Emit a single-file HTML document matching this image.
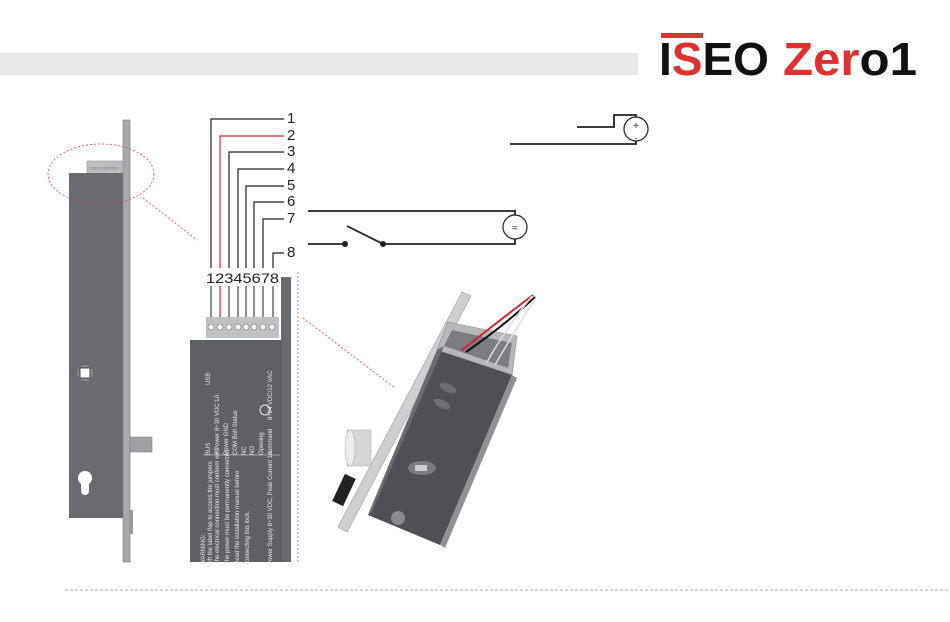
<!DOCTYPE html>
<html><head><meta charset="utf-8"><style>
html,body{margin:0;padding:0;background:#fff;width:950px;height:622px;overflow:hidden}
svg{display:block}
text{font-family:"Liberation Sans",sans-serif}
</style></head><body>
<svg width="950" height="622" viewBox="0 0 950 622" xmlns="http://www.w3.org/2000/svg">
<!-- header -->
<rect x="0" y="53" width="638" height="22" fill="#e8e8e8"/>
<rect x="661" y="33" width="42" height="5" fill="#e03030"/>
<text x="659" y="75" font-size="46" font-weight="bold" fill="#111" textLength="110" lengthAdjust="spacingAndGlyphs">I<tspan fill="#e03030">S</tspan>EO</text>
<text x="783" y="75" font-size="46" font-weight="bold" fill="#e03030" textLength="134" lengthAdjust="spacingAndGlyphs">Zer<tspan fill="#111">o1</tspan></text>
<line x1="65" y1="590" x2="950" y2="590" stroke="#aaa" stroke-dasharray="3,2" stroke-width="1"/>

<!-- left lock -->
<rect x="87" y="161" width="35" height="13" fill="#bdbdbd" stroke="#888" stroke-width="0.5"/>
<text x="89" y="170" font-size="6" fill="#555">○○○○○○○○</text>
<rect x="69" y="173" width="55" height="345" fill="#6a6b70"/>
<rect x="123" y="120" width="7" height="442" fill="#a8a9ad" stroke="#777" stroke-width="0.6"/>
<rect x="130" y="437" width="22" height="15" fill="#a0a0a4" stroke="#777" stroke-width="0.5"/>
<rect x="130" y="510" width="3" height="24" fill="#999"/>
<circle cx="85" cy="373" r="8" fill="#8a8b8f"/>
<rect x="80" y="368" width="10" height="10" fill="#fff" stroke="#222" stroke-width="0.8"/>
<circle cx="85" cy="478" r="7" fill="#fff"/>
<rect x="81" y="478" width="8" height="17" rx="4" fill="#fff"/>
<ellipse cx="101" cy="174" rx="53" ry="30" fill="none" stroke="#e04050" stroke-dasharray="2,2" stroke-width="0.8"/>
<line x1="143" y1="198" x2="197" y2="240" stroke="#e04050" stroke-dasharray="2,2" stroke-width="0.8"/>

<!-- wires -->
<g fill="none" stroke-width="1.2">
<polyline points="284,119 211,119 211,268" stroke="#222"/>
<polyline points="284,136 220,136 220,268" stroke="#d82030"/>
<polyline points="284,152 229,152 229,268" stroke="#222"/>
<polyline points="284,169 238,169 238,268" stroke="#222"/>
<polyline points="284,186 246,186 246,268" stroke="#222"/>
<polyline points="284,202 254,202 254,268" stroke="#222"/>
<polyline points="284,219 263,219 263,268" stroke="#222"/>
<polyline points="284,253 273,253 273,268" stroke="#222"/>
<line x1="211" y1="286" x2="211" y2="318" stroke="#444"/>
<line x1="220" y1="286" x2="220" y2="318" stroke="#d82030"/>
<line x1="229" y1="286" x2="229" y2="318" stroke="#444"/>
<line x1="238" y1="286" x2="238" y2="318" stroke="#444"/>
<line x1="246" y1="286" x2="246" y2="318" stroke="#444"/>
<line x1="254" y1="286" x2="254" y2="318" stroke="#444"/>
<line x1="263" y1="286" x2="263" y2="318" stroke="#444"/>
<line x1="273" y1="286" x2="273" y2="318" stroke="#444"/>
</g>
<g font-size="15" fill="#222">
<text x="287" y="123">1</text><text x="287" y="140">2</text><text x="287" y="156">3</text><text x="287" y="173">4</text>
<text x="287" y="190">5</text><text x="287" y="206">6</text><text x="287" y="223">7</text><text x="287" y="257">8</text>
</g>
<text x="206" y="283" font-size="14" fill="#222" textLength="73" lengthAdjust="spacingAndGlyphs">12345678</text>

<rect x="281" y="277" width="10" height="285" fill="#6a6b70"/>
<rect x="206" y="317" width="73" height="21" fill="#c0c0c2"/>
<g fill="#f4f4f4" stroke="#777" stroke-width="0.6">
<circle cx="211" cy="327" r="3"/><circle cx="220" cy="327" r="3"/><circle cx="229" cy="327" r="3"/><circle cx="238" cy="327" r="3"/>
<circle cx="246" cy="327" r="3"/><circle cx="254" cy="327" r="3"/><circle cx="263" cy="327" r="3"/><circle cx="272" cy="327" r="3"/>
</g>
<rect x="190" y="340" width="92" height="222" fill="#5f6066"/>
<g fill="#e8e8e8" font-size="6">
<text transform="translate(205,565) rotate(-90)">WARNING:</text>
<text transform="translate(212,565) rotate(-90)">Lift the label flap to access the jumpers</text>
<text transform="translate(219,565) rotate(-90)">The electrical connection must conform with</text>
<text transform="translate(229,565) rotate(-90)">The power must be permanently connected</text>
<text transform="translate(239,565) rotate(-90)">Read the installation manual before</text>
<text transform="translate(249,565) rotate(-90)">connecting this lock.</text>
<text transform="translate(272,565) rotate(-90)">Power Supply 8÷30 VDC, Peak Current 1A</text>
<text transform="translate(210,455) rotate(-90)">BUS</text>
<text transform="translate(219,455) rotate(-90)">+ Power 8÷30 VDC 1A</text>
<text transform="translate(228,455) rotate(-90)">Power GND</text>
<text transform="translate(237,455) rotate(-90)">COM Bolt Status</text>
<text transform="translate(246,455) rotate(-90)">NC</text>
<text transform="translate(254,455) rotate(-90)">NO</text>
<text transform="translate(263,455) rotate(-90)">Opening</text>
<text transform="translate(272,455) rotate(-90)">command</text>
<text transform="translate(272,420) rotate(-90)">8÷24 VDC/12 VAC</text>
<text transform="translate(210,385) rotate(-90)">USB</text>
</g>
<line x1="203" y1="455" x2="280" y2="455" stroke="#ddd" stroke-width="0.6"/>
<circle cx="265" cy="410" r="5" fill="none" stroke="#eee" stroke-width="1"/>

<line x1="298" y1="272" x2="298" y2="562" stroke="#e04050" stroke-dasharray="2,2" stroke-width="0.8"/>
<line x1="303" y1="318" x2="395" y2="388" stroke="#e04050" stroke-dasharray="2,2" stroke-width="0.8"/>

<!-- circuit -->
<g stroke="#222" stroke-width="1.8" fill="none">
<polyline points="308,211 515,211 515,215"/>
<polyline points="308,244 345,244"/>
<line x1="347" y1="226" x2="383" y2="244"/>
<polyline points="383,244 515,244 515,239"/>
<circle cx="515" cy="227" r="12" stroke-width="1.2" fill="#fff"/>
<polyline points="577,127 614,127 614,115 636,115 636,117"/>
<polyline points="510,144 636,144 636,141"/>
<circle cx="636" cy="129" r="12" stroke-width="1.2" fill="#fff"/>
</g>
<circle cx="345" cy="244" r="3" fill="#222"/><circle cx="383" cy="244" r="3" fill="#222"/>
<text x="515" y="231" font-size="10" text-anchor="middle" fill="#222">≈</text>
<text x="636" y="129" font-size="10" text-anchor="middle" fill="#222">+</text>
<text x="636" y="141" font-size="8" text-anchor="middle" fill="#222">-</text>

<!-- 3D lock -->
<polygon points="462,292 471,296 347,532 338,527" fill="#cfcfd2" stroke="#999" stroke-width="0.6"/>
<polygon points="448,322 517,336 512,375 437,350" fill="#b8b8bb" stroke="#888" stroke-width="0.6"/>
<polygon points="452,330 512,343 508,368 444,346" fill="#7c7d82"/>
<polygon points="437,350 512,375 440,545 368,515" fill="#4f5055"/>
<polygon points="512,375 517,378 445,548 440,545" fill="#909095"/>
<polygon points="437,350 444,346 372,512 368,515" fill="#6a6b70"/>
<rect x="347" y="430" width="24" height="36" fill="#d6d6d8" stroke="#aaa" stroke-width="0.5"/>
<ellipse cx="350" cy="448" rx="5" ry="18" fill="#eee" stroke="#aaa" stroke-width="0.5"/>
<ellipse cx="422" cy="468" rx="14" ry="7" fill="#7a7b80"/>
<rect x="415" y="465" width="12" height="6" fill="#ccc"/>
<ellipse cx="448" cy="388" rx="9" ry="4" fill="#6e6f74" transform="rotate(25 448 388)"/>
<ellipse cx="442" cy="404" rx="9" ry="4" fill="#6e6f74" transform="rotate(25 442 404)"/>
<circle cx="398" cy="518" r="7" fill="#8a8b90"/>
<rect x="338" y="475" width="12" height="30" fill="#222" transform="rotate(25 344 490)"/>
<g fill="none" stroke-width="2">
<path d="M462,350 Q500,320 533,295" stroke="#d82030"/>
<path d="M466,352 Q505,325 535,297" stroke="#111"/>
<path d="M487,362 Q505,330 532,296" stroke="#ddd" stroke-width="1.5"/>
<path d="M495,365 Q515,330 536,298" stroke="#ddd" stroke-width="1.5"/>
</g>
</svg>
</body></html>
